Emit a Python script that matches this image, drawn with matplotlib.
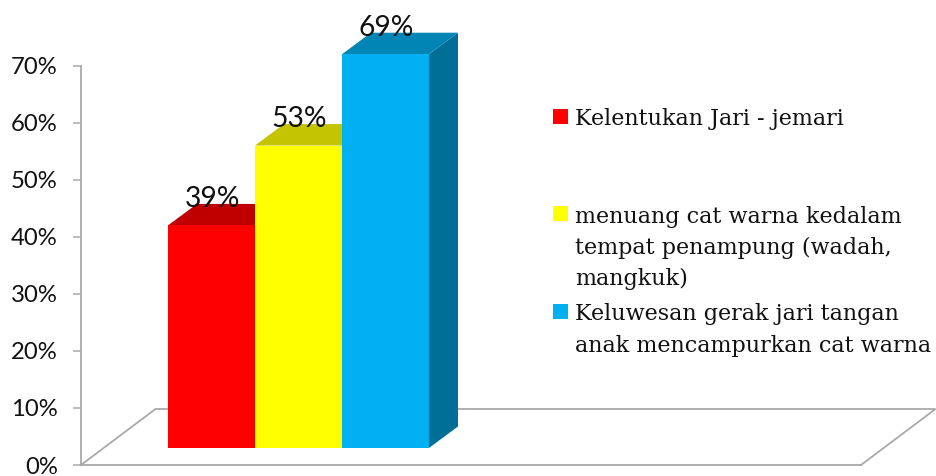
import matplotlib
matplotlib.use("Agg")
import matplotlib.pyplot as plt
from matplotlib.patches import Polygon, Rectangle

series_labels = ["Kelentukan Jari - jemari",
                 "menuang cat warna kedalam\ntempat penampung (wadah,\nmangkuk)",
                 "Keluwesan gerak jari tangan\nanak mencampurkan cat warna"]
values = [39, 53, 69]
value_labels = ["39%", "53%", "69%"]
y_ticks = [0, 10, 20, 30, 40, 50, 60, 70]
y_tick_labels = ["0%", "10%", "20%", "30%", "40%", "50%", "60%", "70%"]

front_colors = ["#ff0000", "#ffff00", "#00b0f0"]
top_colors = ["#c00000", "#c4c400", "#0085b4"]
side_colors = ["#8f0000", "#9c9c00", "#006f98"]

W, H = 936, 476
fig = plt.figure(figsize=(W / 100, H / 100), dpi=100, facecolor="white")
AX_L, AX_R, AX_T, AX_B = 81, 861, 65.5, 465
ax = fig.add_axes([AX_L / W, 1 - AX_B / H, (AX_R - AX_L) / W, (AX_B - AX_T) / H])
PX_PER_UNIT = 87.0
PX_PER_PCT = (AX_B - AX_T) / 70
ax.set_xlim(0, (AX_R - AX_L) / PX_PER_UNIT)
ax.set_ylim(0, 70)
ax.patch.set_alpha(0)

GRAY = "#a9a9a9"
dx = 29 / PX_PER_UNIT
dy = 21.5 / PX_PER_PCT
base = 17 / PX_PER_PCT
x0 = (168 - AX_L) / PX_PER_UNIT
floor_dx = 74.5 / PX_PER_UNIT
floor_dy = 56 / PX_PER_PCT

# floor
xr = (AX_R - AX_L) / PX_PER_UNIT
ax.plot([0, floor_dx, xr + floor_dx, xr], [0, floor_dy, floor_dy, 0],
        color=GRAY, lw=1.3, clip_on=False, zorder=1, solid_joinstyle="miter")

# bars
for i, v in enumerate(values):
    l, r = x0 + i, x0 + i + 1
    b, t = base, base + v
    z = 2 + i
    ax.add_patch(Polygon([(r, b), (r + dx, b + dy), (r + dx, t + dy), (r, t)],
                         closed=True, fc=side_colors[i], ec="none", zorder=z, clip_on=False))
    ax.add_patch(Polygon([(l, t), (l + dx, t + dy), (r + dx, t + dy), (r, t)],
                         closed=True, fc=top_colors[i], ec="none", zorder=z, clip_on=False))
    ax.add_patch(Rectangle((l, b), 1, v, fc=front_colors[i], ec="none", zorder=z, clip_on=False))
    ax.text(l + 0.51, t + 4.65, value_labels[i], ha="center", va="center",
            fontsize=20.3, family="Lato", color="#111111", zorder=10, clip_on=False)

# y axis
for s in ["top", "right", "bottom"]:
    ax.spines[s].set_visible(False)
ax.spines["left"].set_color(GRAY)
ax.spines["left"].set_linewidth(1.3)
ax.set_xticks([])
ax.set_yticks(y_ticks)
ax.set_yticklabels(y_tick_labels, fontsize=17.2, family="Lato", color="#111111")
ax.tick_params(axis="y", length=5.8, width=1.1, color=GRAY, pad=11)
ax.plot([0, xr], [0, 0], color=GRAY, lw=1.3, clip_on=False, zorder=1)

# legend
marker_tops = [109, 206, 304]
line_baselines = [[125], [223, 254, 285], [320, 352]]
for label, color, top, bases in zip(series_labels, front_colors, marker_tops, line_baselines):
    fig.patches.append(Rectangle((553 / W, 1 - (top + 15) / H), 15 / W, 15 / H,
                                 transform=fig.transFigure, fc=color, ec="none"))
    for line, y in zip(label.split("\n"), bases):
        fig.text(575 / W, 1 - y / H, line, fontsize=16.05, family="DejaVu Serif",
                 color="#111111", ha="left", va="baseline")

fig.savefig("out.png", dpi=100, facecolor="white")
